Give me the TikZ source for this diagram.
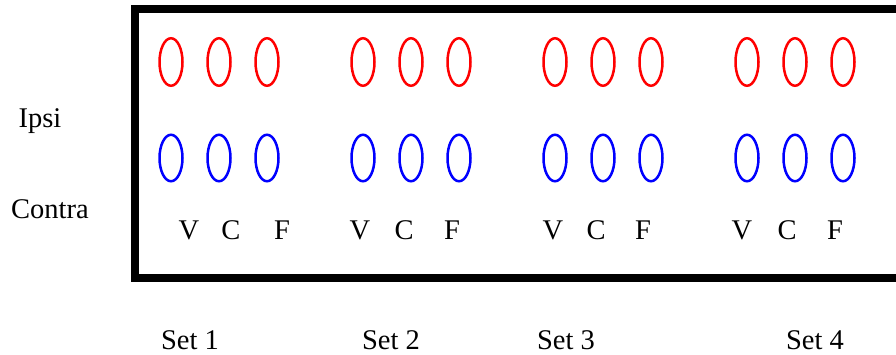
\documentclass[tikz,border=0pt]{standalone}
\usepackage{fontspec}
\setmainfont{Liberation Serif}
\usetikzlibrary{shapes.geometric}

\begin{document}
\begin{tikzpicture}[
  x=1pt,y=-1pt,
  ipsi/.style={ellipse,draw=red,line width=2.5pt,inner sep=0pt,minimum width=23pt,minimum height=47.5pt},
  contra/.style={ellipse,draw=blue,line width=2.5pt,inner sep=0pt,minimum width=23pt,minimum height=46.5pt},
  lbl/.style={anchor=base,inner sep=0pt,font=\fontsize{28.5}{34}\selectfont},
]
  \useasboundingbox (0,0) rectangle (896,354);
  \draw[line width=8pt] (896,9) -- (135,9) -- (135,278) -- (896,278);

  \node[lbl] (ipsi) at (40,127) {Ipsi};
  \node[lbl] (contra) at (50,218) {Contra};

  \node[ipsi] (i1v) at (171,62) {};
  \node[ipsi] (i1c) at (219,62) {};
  \node[ipsi] (i1f) at (267,62) {};
  \node[ipsi] (i2v) at (363,62) {};
  \node[ipsi] (i2c) at (411,62) {};
  \node[ipsi] (i2f) at (459,62) {};
  \node[ipsi] (i3v) at (555,62) {};
  \node[ipsi] (i3c) at (603,62) {};
  \node[ipsi] (i3f) at (651,62) {};
  \node[ipsi] (i4v) at (747,62) {};
  \node[ipsi] (i4c) at (795,62) {};
  \node[ipsi] (i4f) at (843,62) {};

  \node[contra] (c1v) at (171,158) {};
  \node[contra] (c1c) at (219,158) {};
  \node[contra] (c1f) at (267,158) {};
  \node[contra] (c2v) at (363,158) {};
  \node[contra] (c2c) at (411,158) {};
  \node[contra] (c2f) at (459,158) {};
  \node[contra] (c3v) at (555,158) {};
  \node[contra] (c3c) at (603,158) {};
  \node[contra] (c3f) at (651,158) {};
  \node[contra] (c4v) at (747,158) {};
  \node[contra] (c4c) at (795,158) {};
  \node[contra] (c4f) at (843,158) {};

  \node[lbl] (v1) at (189,239) {V};
  \node[lbl] (k1) at (231,239) {C};
  \node[lbl] (f1) at (282,239) {F};
  \node[lbl] (v2) at (360,239) {V};
  \node[lbl] (k2) at (404,239) {C};
  \node[lbl] (f2) at (452,239) {F};
  \node[lbl] (v3) at (553,239) {V};
  \node[lbl] (k3) at (596,239) {C};
  \node[lbl] (f3) at (643,239) {F};
  \node[lbl] (v4) at (742,239) {V};
  \node[lbl] (k4) at (787,239) {C};
  \node[lbl] (f4) at (835,239) {F};

  \node[lbl] (set1) at (190,349) {Set 1};
  \node[lbl] (set2) at (391,349) {Set 2};
  \node[lbl] (set3) at (566,349) {Set 3};
  \node[lbl] (set4) at (815,349) {Set 4};
\end{tikzpicture}
\end{document}
